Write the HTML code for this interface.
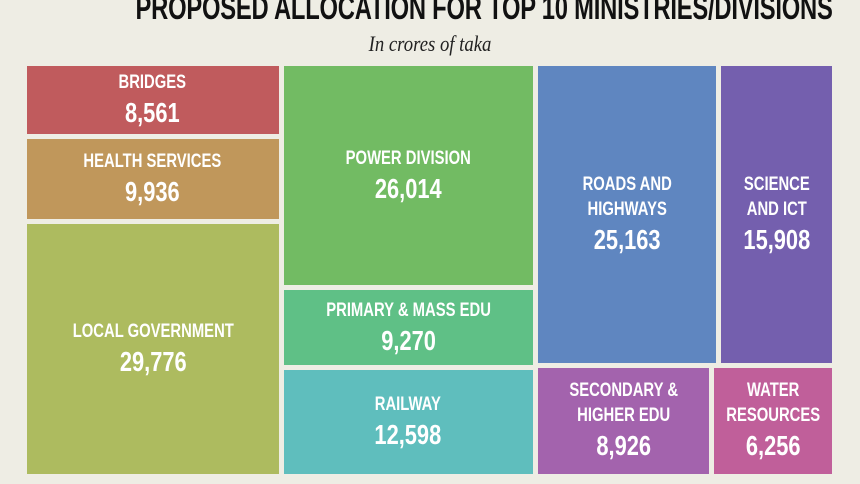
<!DOCTYPE html>
<html><head><meta charset="utf-8"><style>
body{margin:0;width:860px;height:484px;background:#eeede4;overflow:hidden;font-family:"Liberation Sans",sans-serif}
#title{position:absolute;left:0;top:-11px;width:860px;text-align:center;white-space:nowrap}
#title span{display:inline-block;font-weight:bold;font-size:33px;color:#111;transform:scaleX(0.72);transform-origin:center;letter-spacing:-0.3px}
#sub{position:absolute;left:0;top:31px;width:860px;text-align:center;font-family:"Liberation Serif",serif;font-style:italic;font-size:22px;color:#222;transform:scaleX(0.85)}
.cell{position:absolute;color:#fff;display:flex;align-items:center;justify-content:center;text-align:center;font-weight:bold;overflow:visible}
.inner{transform:scaleX(0.78);white-space:nowrap}
.lab{font-size:19px;line-height:25px}
.val{font-size:28px;line-height:35px}
</style></head><body>
<div id="title"><span>PROPOSED ALLOCATION FOR TOP 10 MINISTRIES/DIVISIONS</span></div>
<div id="sub">In crores of taka</div>
<div id="chart"></div>
<script>
const labels=["BRIDGES","HEALTH SERVICES","LOCAL GOVERNMENT","POWER DIVISION","PRIMARY &amp; MASS EDU","RAILWAY","ROADS AND<br>HIGHWAYS","SCIENCE<br>AND ICT","SECONDARY &amp;<br>HIGHER EDU","WATER<br>RESOURCES"];
const values=[8561,9936,29776,26014,9270,12598,25163,15908,8926,6256];
const colors=["#c05b5d","#c0975b","#adbb5f","#72bb63","#5fc086","#5fbebd","#5f86c0","#745fae","#a363ad","#c05f9a"];
const X0=27,Y0=66,W=805,H=408,G=5;
const chart=document.getElementById('chart');
function cell(i,x,y,w,h){
  const d=document.createElement('div');
  d.className='cell';
  
  
  d.style.cssText=`left:${x}px;top:${y}px;width:${w}px;height:${h}px;background:${colors[i]}`;
  d.innerHTML=`<div class="inner"><div class="lab">${labels[i]}</div><div class="val">${values[i].toLocaleString('en-US')}</div></div>`;
  chart.appendChild(d);
}
const sum=a=>a.reduce((s,i)=>s+values[i],0);
const all=values.reduce((a,b)=>a+b,0);
const cols=[[0,1,2],[3,4,5],[6,7,8,9]];
let x=X0;
cols.forEach((c,ci)=>{
  const cw=(W+G)*sum(c)/all-G;
  if(ci<2){
    let y=Y0;
    c.forEach(i=>{const h=(H+G)*values[i]/sum(c)-G;cell(i,x,y,cw,h);y+=h+G;});
  }else{
    const rows=[[6,7],[8,9]];let y=Y0;
    rows.forEach(r=>{
      const rh=(H+G)*sum(r)/sum(c)-G;let xx=x;
      r.forEach(i=>{const w=(cw+G)*values[i]/sum(r)-G;cell(i,xx,y,w,rh);xx+=w+G;});
      y+=rh+G;
    });
  }
  x+=cw+G;
});
</script>
</body></html>
